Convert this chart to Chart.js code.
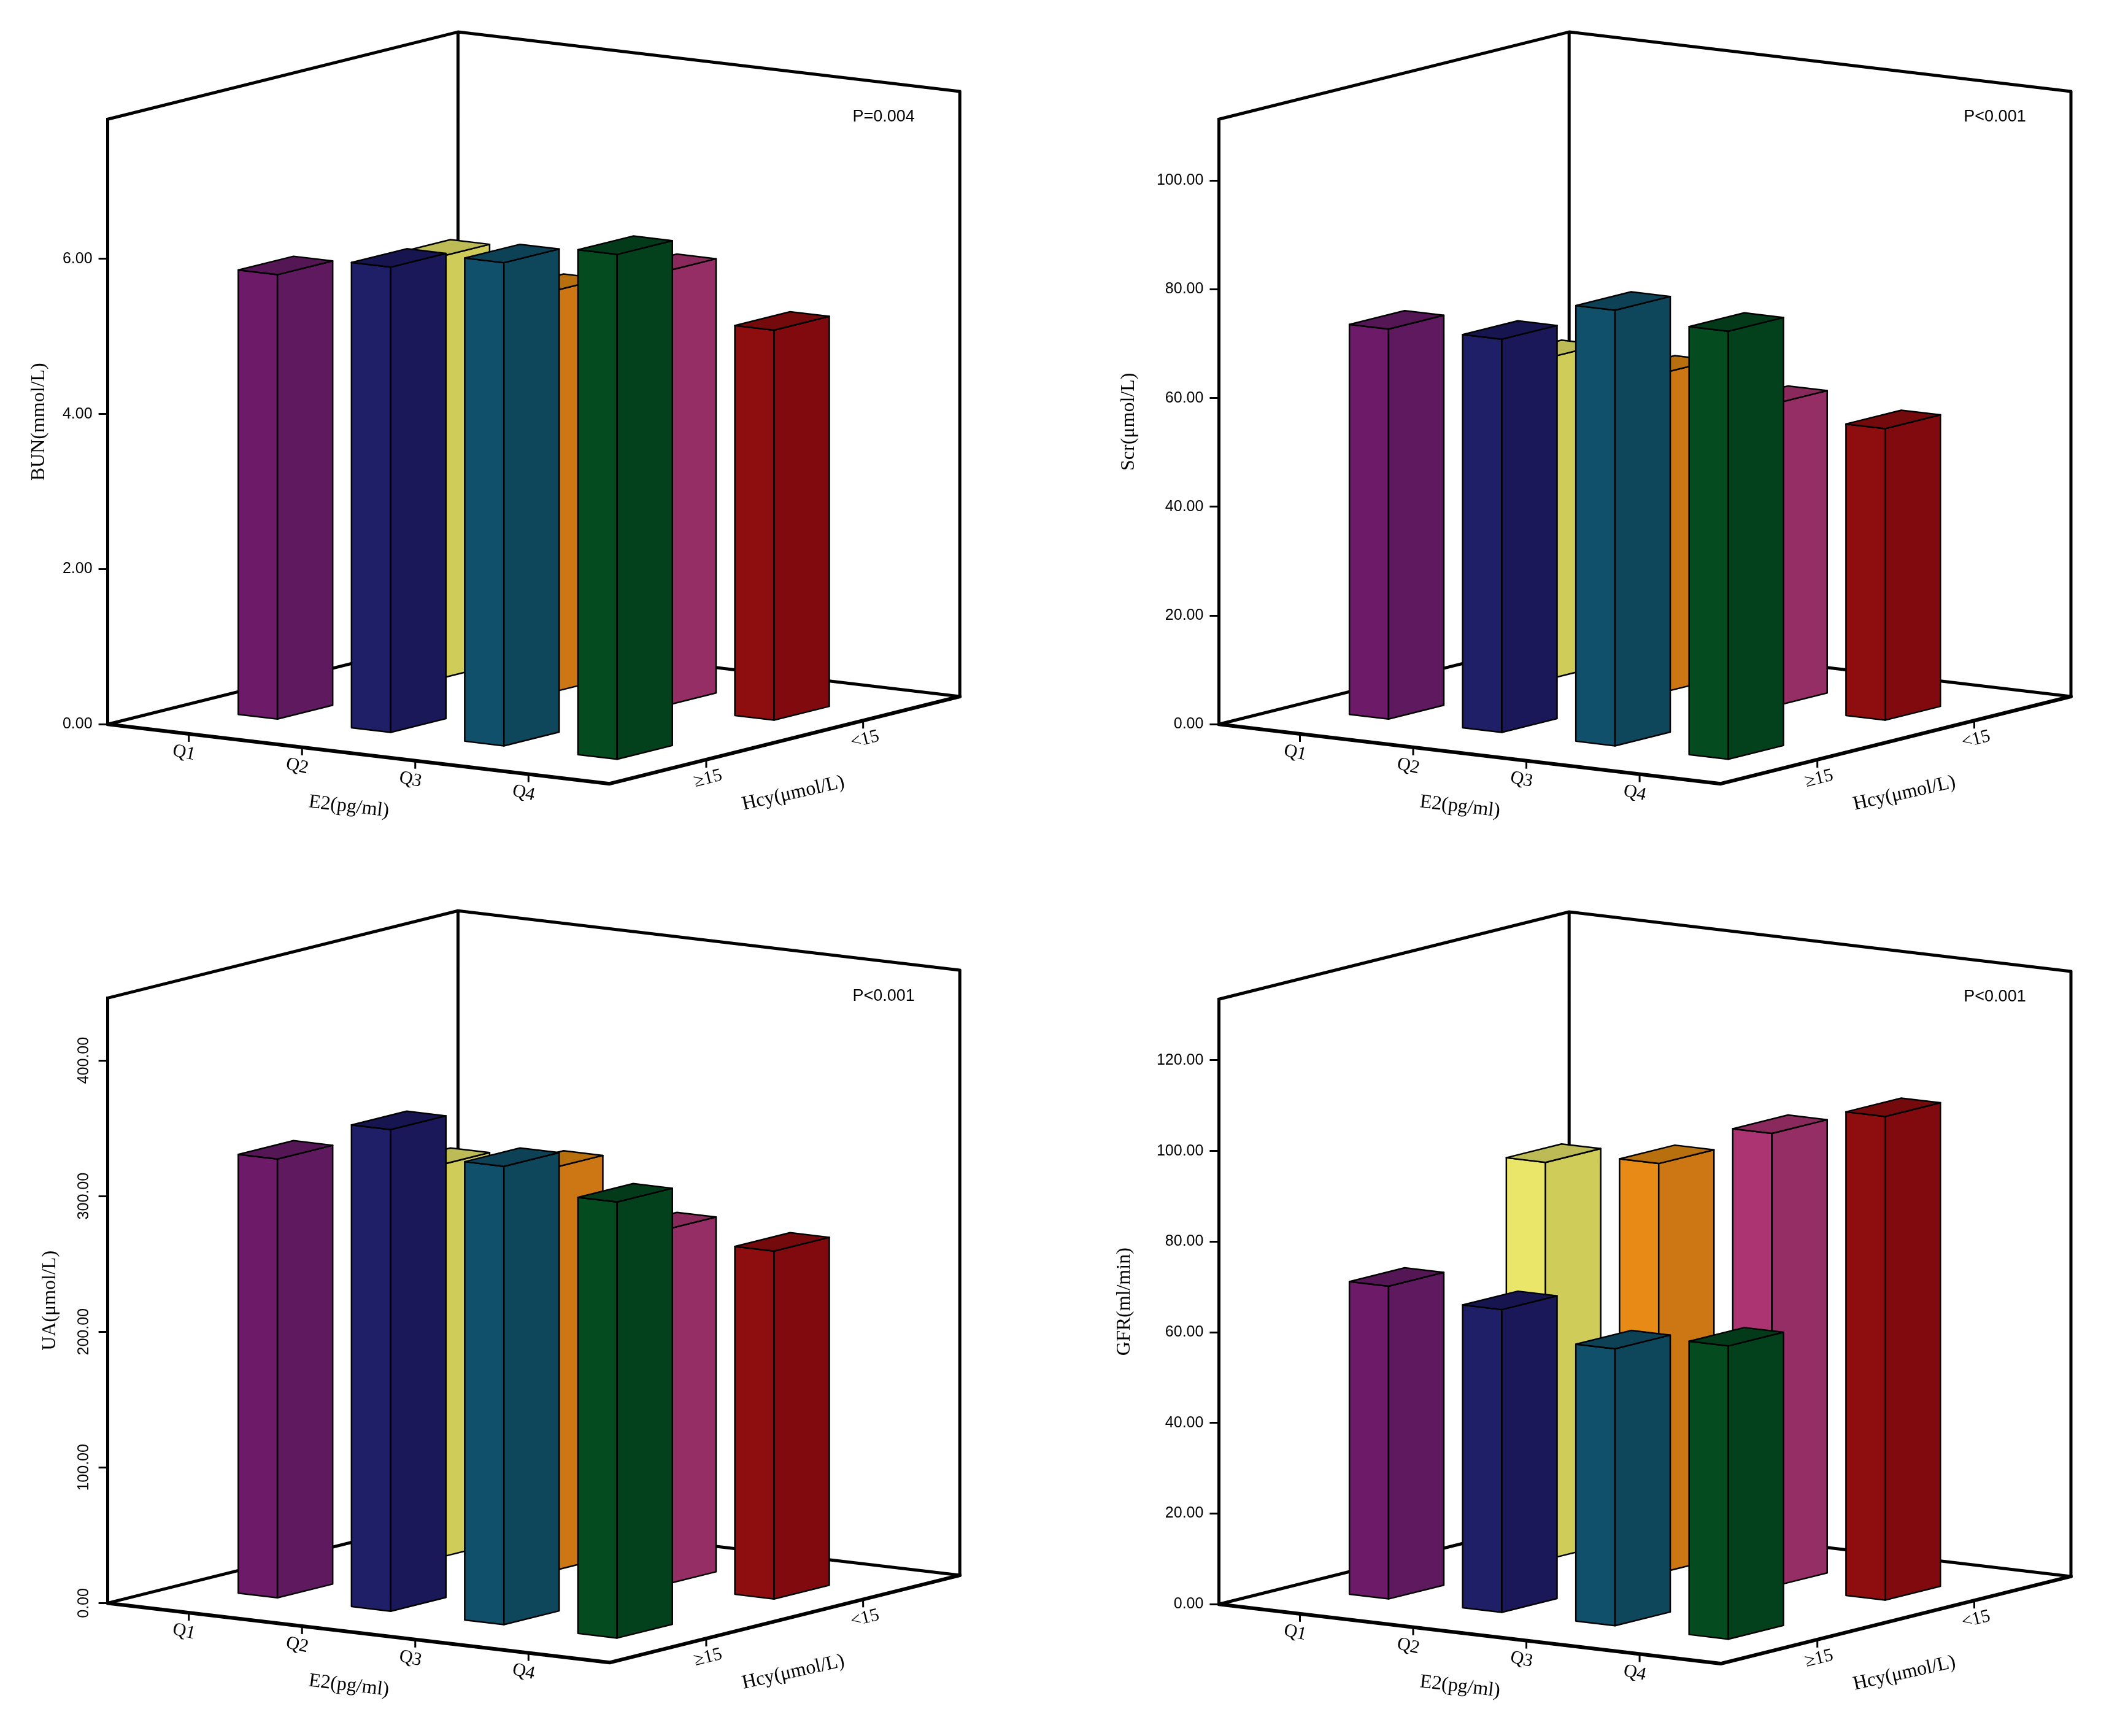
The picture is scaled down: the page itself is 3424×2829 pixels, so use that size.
<!DOCTYPE html>
<html>
<head>
<meta charset="utf-8">
<script src="https://cdn.jsdelivr.net/npm/chart.js@4.4.1/dist/chart.umd.min.js"></script>
<style>
html,body{margin:0;padding:0;background:#fff;}
#wrap{position:relative;width:3424px;height:2829px;background:#fff;overflow:hidden;}
canvas{position:absolute;}
</style>
</head>
<body>
<div id="wrap">
<canvas id="c0" width="1712" height="1414" style="left:0px;top:0px"></canvas>
<canvas id="c1" width="1712" height="1414" style="left:1712px;top:0px"></canvas>
<canvas id="c2" width="1712" height="1415" style="left:0px;top:1414px"></canvas>
<canvas id="c3" width="1712" height="1415" style="left:1712px;top:1414px"></canvas>
</div>
<script>
// ---------------- DATA ----------------
const e2Labels = ['Q1', 'Q2', 'Q3', 'Q4'];
const hcyLabels = ['\u226515', '<15'];
const e2Title = 'E2(pg/ml)';
const hcyTitle = 'Hcy(\u03bcmol/L)';
const measureTitles = ['BUN(mmol/L)', 'Scr(\u03bcmol/L)', 'UA(\u03bcmol/L)', 'GFR(ml/min)'];
const pValues = ['P=0.004', 'P<0.001', 'P<0.001', 'P<0.001'];
const yMax = [7.8, 111.3, 446, 133.5];
const yStep = [2, 20, 100, 20];

const bunHigh = [5.74, 6.01, 6.24, 6.52];
const bunLow  = [5.45, 5.18, 5.61, 5.04];
const scrHigh = [71.9, 72.5, 80.3, 78.9];
const scrLow  = [59.3, 58.9, 55.8, 53.8];
const uaHigh  = [324.1, 355.7, 338.5, 322.1];
const uaLow   = [289.9, 297.7, 262.2, 257.1];
const gfrHigh = [69.2, 67.0, 61.3, 64.9];
const gfrLow  = [87.9, 90.6, 100.2, 106.9];

const seriesHigh = [bunHigh, scrHigh, uaHigh, gfrHigh];
const seriesLow  = [bunLow, scrLow, uaLow, gfrLow];

// ---------------- STYLE / LAYOUT ----------------
const FRONT = [['#6D1B69', '#1E1F66', '#10506A', '#044C20'], ['#EAE66A', '#E88A16', '#AD3473', '#8E0E10']];
const SIDE  = [['#5E195F', '#1B1859', '#0E475C', '#03411C'], ['#CFCC5A', '#CD7714', '#952E64', '#800A0E']];
const TOPC  = [['#541654', '#17154F', '#0D4155', '#033A19'], ['#BDBB55', '#B8700F', '#8A2A5C', '#740A0C']];

const PANELS = [
  {id: 'c0', w: 1712, h: 1414, ax: 175.6, ay: 1180.3, titleX: 64,  rotTicks: false},
  {id: 'c1', w: 1712, h: 1414, ax: 274.4, ay: 1180.3, titleX: 128, rotTicks: false},
  {id: 'c2', w: 1712, h: 1415, ax: 175.6, ay: 1198.4, titleX: 82,  rotTicks: true, tickX: 137},
  {id: 'c3', w: 1712, h: 1415, ax: 274.4, ay: 1200.2, titleX: 121, rotTicks: false}
];
const BOX_H = 986;
const E = {x: 817.8, y: 96.9};     // projection of E2 axis (front floor edge)
const H = {x: 570.8, y: -142.2};   // projection of Hcy axis (depth)
const HALF_U = 0.173;  // bar half width in E2 scale units
const HALF_W = 0.176;  // bar half depth in Hcy scale units
const SANS = '"Liberation Sans", Arial, sans-serif';
const SERIF = '"Liberation Serif", "Times New Roman", serif';

function frac(scale, px) { return (px - scale.left) / scale.width; }

const box3d = {
  id: 'box3d',
  beforeDatasetsDraw(chart) {
    const ca = chart.chartArea;
    const ctx = chart.ctx;
    const A = {x: ca.left, y: ca.bottom};
    const hgt = ca.bottom - ca.top;
    const B = {x: A.x + H.x, y: A.y + H.y};
    const D = {x: A.x + E.x, y: A.y + E.y};
    const C = {x: D.x + H.x, y: D.y + H.y};
    ctx.save();
    ctx.strokeStyle = '#000';
    ctx.lineJoin = 'round';
    ctx.lineCap = 'round';
    ctx.lineWidth = 5;
    ctx.beginPath();
    ctx.moveTo(A.x, A.y); ctx.lineTo(B.x, B.y); ctx.lineTo(C.x, C.y);
    ctx.moveTo(B.x, B.y); ctx.lineTo(B.x, B.y - hgt);
    ctx.moveTo(C.x, C.y); ctx.lineTo(C.x, C.y - hgt);
    ctx.moveTo(A.x, A.y - hgt); ctx.lineTo(B.x, B.y - hgt); ctx.lineTo(C.x, C.y - hgt);
    ctx.stroke();
    ctx.restore();
  },
  afterDatasetsDraw(chart, args, opts) {
    const ca = chart.chartArea;
    const ctx = chart.ctx;
    const xs = chart.scales.x, hs = chart.scales.hcy, ys = chart.scales.y;
    const A = {x: ca.left, y: ca.bottom};
    const hgt = ca.bottom - ca.top;
    const P = (u, w) => ({x: A.x + u * E.x + w * H.x, y: A.y + u * E.y + w * H.y});
    const D = P(1, 0), C = P(1, 1);

    // bars: back row first
    ctx.save();
    ctx.lineJoin = 'round';
    ctx.lineWidth = 2.5;
    ctx.strokeStyle = '#000';
    for (const j of [1, 0]) {
      const meta = chart.getDatasetMeta(j);
      const ds = chart.data.datasets[j];
      meta.data.forEach((el, i) => {
        const props = el.getProps(['x', 'y', 'base'], true);
        const xv = ds.data[i].x;
        const u0 = frac(xs, xs.getPixelForValue(xv - HALF_U));
        const u1 = frac(xs, xs.getPixelForValue(xv + HALF_U));
        const w0 = frac(hs, hs.getPixelForValue(j - HALF_W));
        const w1 = frac(hs, hs.getPixelForValue(j + HALF_W));
        const h = props.base - props.y;
        const p00 = P(u0, w0), p10 = P(u1, w0), p11 = P(u1, w1), p01 = P(u0, w1);
        const up = p => ({x: p.x, y: p.y - h});
        const poly = (pts, fill) => {
          ctx.beginPath();
          ctx.moveTo(pts[0].x, pts[0].y);
          for (let k = 1; k < pts.length; k++) ctx.lineTo(pts[k].x, pts[k].y);
          ctx.closePath();
          ctx.fillStyle = fill;
          ctx.fill();
          ctx.stroke();
        };
        poly([p00, p10, up(p10), up(p00)], ds.frontColors[i]);
        poly([p10, p11, up(p11), up(p10)], ds.sideColors[i]);
        poly([up(p00), up(p10), up(p11), up(p01)], ds.topColors[i]);
      });
    }
    ctx.restore();

    // front floor axes
    ctx.save();
    ctx.strokeStyle = '#000';
    ctx.lineJoin = 'round';
    ctx.lineCap = 'round';
    ctx.lineWidth = 6;
    ctx.beginPath();
    ctx.moveTo(A.x, A.y); ctx.lineTo(D.x, D.y); ctx.lineTo(C.x, C.y);
    ctx.stroke();

    const angE = Math.atan2(E.y, E.x);
    const angH = Math.atan2(H.y, H.x);
    ctx.lineWidth = 3;
    ctx.lineCap = 'butt';
    ctx.fillStyle = '#000';
    ctx.textAlign = 'center';
    ctx.textBaseline = 'middle';
    ctx.font = '30px ' + SERIF;
    chart.data.labels.forEach((lab, i) => {
      const u = frac(xs, xs.getPixelForValue(i));
      const p = P(u, 0);
      ctx.beginPath(); ctx.moveTo(p.x, p.y); ctx.lineTo(p.x, p.y + 13); ctx.stroke();
      ctx.save();
      ctx.translate(p.x - 8, p.y + 31);
      ctx.rotate(angE + 0.1);
      ctx.fillText(lab, 0, 0);
      ctx.restore();
    });
    opts.hcyLabels.forEach((lab, j) => {
      const w = frac(hs, hs.getPixelForValue(j));
      const p = P(1, w);
      ctx.beginPath(); ctx.moveTo(p.x, p.y); ctx.lineTo(p.x, p.y + 13); ctx.stroke();
      ctx.save();
      ctx.translate(p.x + 3, p.y + 31);
      ctx.rotate(angH);
      ctx.fillText(lab, 0, 0);
      ctx.restore();
    });
    // axis titles
    ctx.font = '32px ' + SERIF;
    const mE = P(0.5, 0);
    ctx.save(); ctx.translate(mE.x - 16, mE.y + 86); ctx.rotate(angE); ctx.fillText(opts.e2Title, 0, 0); ctx.restore();
    const mH = P(1, 0.5);
    ctx.save(); ctx.translate(mH.x + 14, mH.y + 87); ctx.rotate(angH * 0.9); ctx.fillText(opts.hcyTitle, 0, 0); ctx.restore();

    // p value
    ctx.font = '27px ' + SANS;
    ctx.fillText(opts.pText, C.x - 124, C.y - hgt + 42);

    // rotated tick labels (UA panel)
    if (opts.rotTicks) {
      ctx.font = '25px ' + SANS;
      const step = opts.step;
      ys.ticks.forEach(t => {
        const r = t.value / step;
        if (Math.abs(r - Math.round(r)) > 1e-6) return;
        const py = ys.getPixelForValue(t.value);
        ctx.save();
        ctx.translate(opts.tickX, py);
        ctx.rotate(-Math.PI / 2);
        ctx.fillText(Number(t.value).toFixed(2), 0, 0);
        ctx.restore();
      });
    }
    ctx.restore();
  }
};

PANELS.forEach((pn, k) => {
  const mk = (arr, j) => ({
    label: hcyLabels[j],
    data: arr.map((v, i) => ({x: i, y: v})),
    grouped: false,
    backgroundColor: 'rgba(0,0,0,0)',
    borderWidth: 0,
    frontColors: FRONT[j],
    sideColors: SIDE[j],
    topColors: TOPC[j]
  });
  new Chart(document.getElementById(pn.id), {
    type: 'bar',
    data: {
      labels: e2Labels,
      datasets: [mk(seriesHigh[k], 0), mk(seriesLow[k], 1)]
    },
    options: {
      responsive: false,
      animation: false,
      devicePixelRatio: 1,
      layout: {padding: {left: 0, top: pn.ay - BOX_H, bottom: pn.h - pn.ay, right: pn.w - (pn.ax + E.x + H.x)}},
      plugins: {
        legend: {display: false},
        tooltip: {enabled: false},
        box3d: {hcyLabels: hcyLabels, e2Title: e2Title, hcyTitle: hcyTitle, pText: pValues[k], rotTicks: pn.rotTicks, tickX: pn.tickX, step: yStep[k]}
      },
      scales: {
        x: {type: 'linear', display: false, min: -0.716, max: 3.716, bounds: 'data', offset: false},
        hcy: {type: 'linear', axis: 'x', position: 'bottom', display: false, min: -0.616, max: 1.616, bounds: 'data', offset: false},
        y: {
          type: 'linear', position: 'left', min: 0, max: yMax[k], bounds: 'data',
          afterFit: s => { s.width = pn.ax; },
          afterBuildTicks: s => {
            s.ticks = s.ticks.filter(t => Math.abs(t.value / yStep[k] - Math.round(t.value / yStep[k])) < 1e-6);
          },
          ticks: {
            stepSize: yStep[k], includeBounds: false, display: !pn.rotTicks,
            callback: v => Number(v).toFixed(2),
            font: {family: SANS, size: 25}, color: '#000', padding: 10
          },
          grid: {drawOnChartArea: false, drawTicks: true, tickLength: 15, lineWidth: 3, color: '#000'},
          border: {display: true, width: 5, color: '#000'},
          title: {display: true, text: measureTitles[k], font: {family: SERIF, size: 32}, color: '#000', padding: {top: pn.titleX - 19.2, bottom: 0}}
        }
      }
    },
    plugins: [box3d]
  });
});
</script>
</body>
</html>
